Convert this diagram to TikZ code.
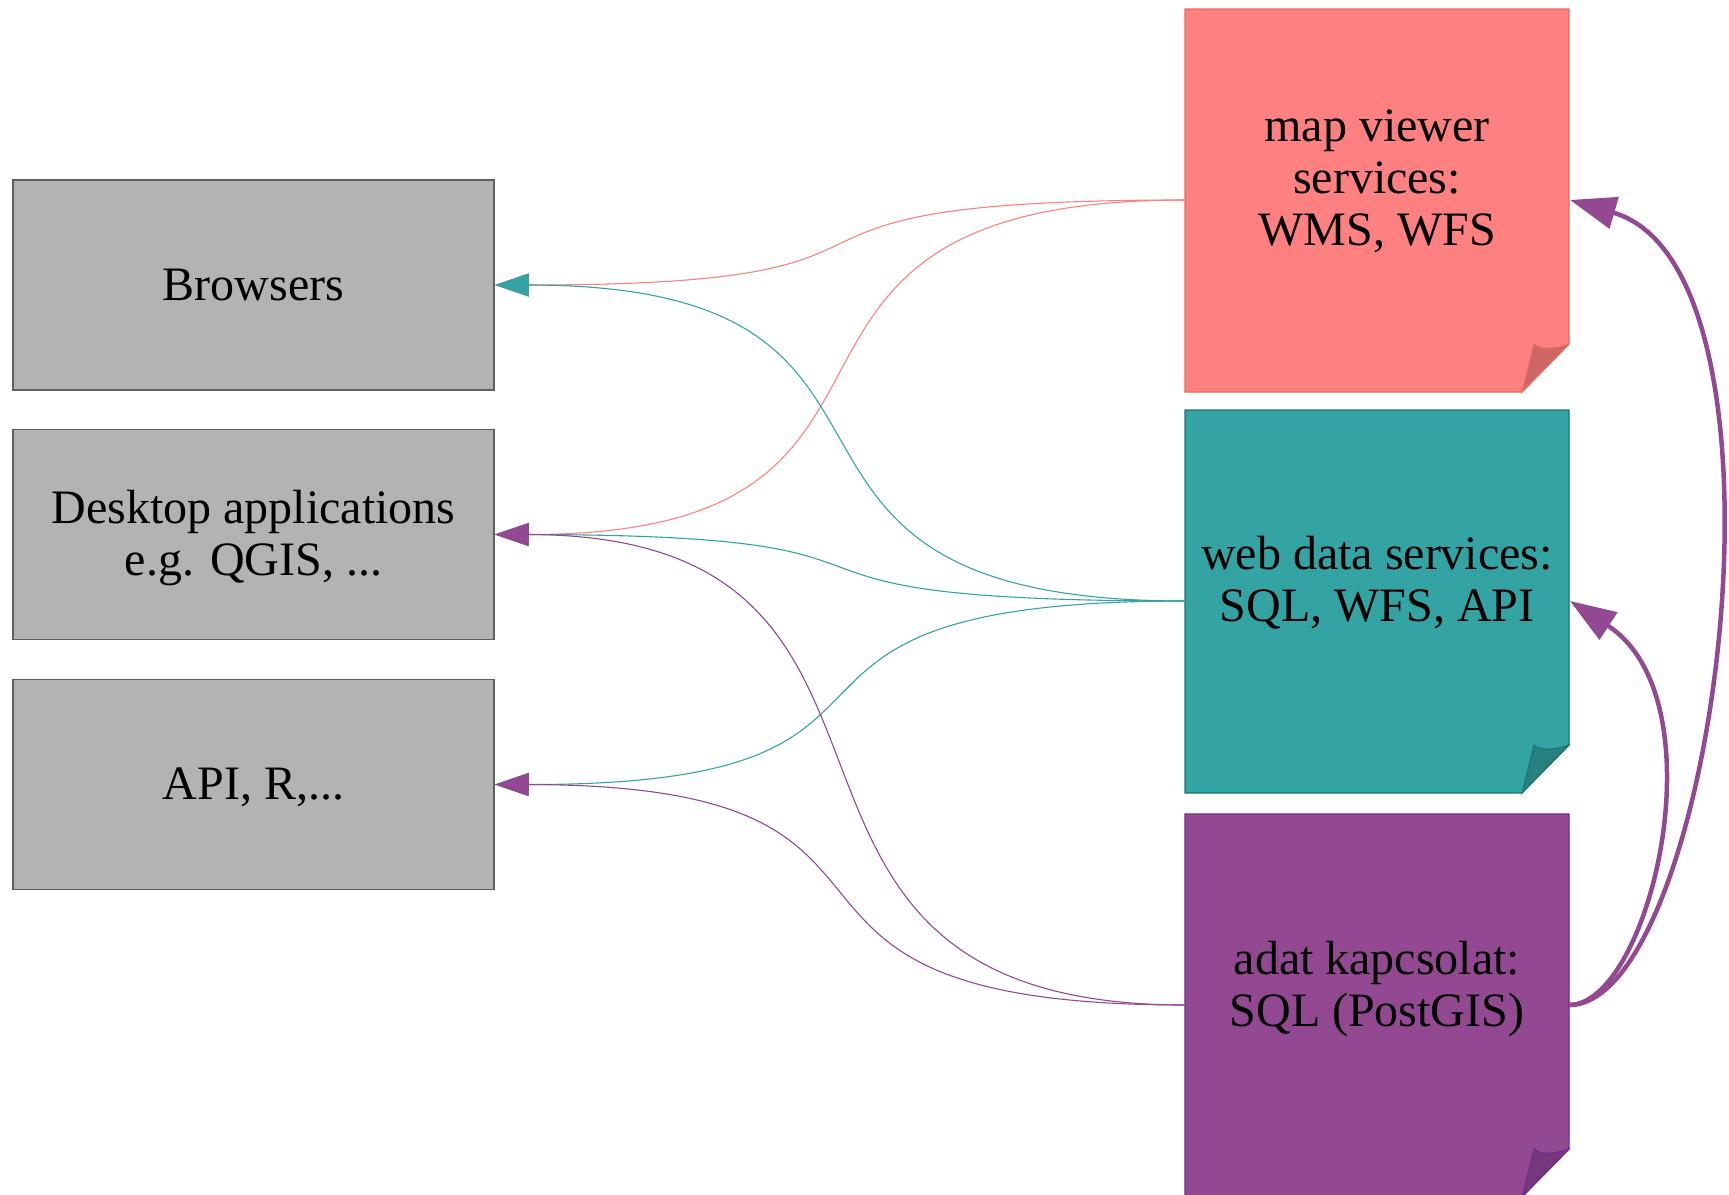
\documentclass[tikz,border=0pt]{standalone}
\usepackage{fontspec}
\setmainfont{Liberation Serif}
\usetikzlibrary{arrows.meta}
\definecolor{salmon}{RGB}{255,128,128}
\definecolor{salmonedge}{RGB}{232,108,88}
\definecolor{salmonfold}{RGB}{206,102,102}
\definecolor{tealc}{RGB}{51,163,163}
\definecolor{tealedge}{RGB}{24,118,118}
\definecolor{tealfold}{RGB}{38,128,128}
\definecolor{purp}{RGB}{147,72,146}
\definecolor{purpedge}{RGB}{112,40,150}
\definecolor{purpfold}{RGB}{118,56,122}
\definecolor{boxgray}{RGB}{179,179,179}
\definecolor{boxedge}{RGB}{95,95,95}
\begin{document}
\begin{tikzpicture}[x=1pt,y=-1pt,
  bigtext/.style={font=\fontsize{48}{52}\selectfont, align=center},
  graybox/.style={bigtext, draw=boxedge, line width=1.5pt, fill=boxgray,
    minimum width=481pt, minimum height=210pt, inner sep=0pt},
  thinline/.style={line width=1.1pt, -{Triangle[length=34pt,width=23pt]}},
  thickline/.style={line width=4.5pt, draw=purp, -{Triangle[length=46pt,width=32pt]}}]
\useasboundingbox (0,0) rectangle (1729,1194);
% gray boxes
\node[graybox] (browsers) at (253.5,285) {Browsers};
\node[graybox] (desktop) at (253.5,534.5) {\raisebox{-5pt}[\height][\depth]{\begin{tabular}{@{}c@{}}Desktop applications\\e.g. QGIS, ...\end{tabular}}};
\node[graybox] (api) at (253.5,784.5) {\raisebox{-3pt}[\height][\depth]{API, R,...}};
% notes
\filldraw[fill=salmon, draw=salmonedge, line width=1.2pt]
  (1185,9) -- (1569,9) -- (1569,344) -- (1522,392) -- (1185,392) -- cycle;
\filldraw[fill=salmonfold, draw=salmonedge, line width=1pt]
  (1534,344) .. controls (1540,350) and (1555,349) .. (1569,344) -- (1522,392) -- cycle;
\filldraw[fill=tealc, draw=tealedge, line width=1.2pt]
  (1185,410) -- (1569,410) -- (1569,745) -- (1522,793) -- (1185,793) -- cycle;
\filldraw[fill=tealfold, draw=tealedge, line width=1pt]
  (1534,745) .. controls (1540,751) and (1555,750) .. (1569,745) -- (1522,793) -- cycle;
\filldraw[fill=purp, draw=purpedge, line width=1.2pt]
  (1185,814) -- (1569,814) -- (1569,1149) -- (1522,1197) -- (1185,1197) -- cycle;
\filldraw[fill=purpfold, draw=purpedge, line width=1pt]
  (1534,1149) .. controls (1540,1155) and (1555,1154) .. (1569,1149) -- (1522,1197) -- cycle;
\node[bigtext] (maptext) at (1377,181) {map viewer\\services:\\WMS, WFS};
\node[bigtext] (webtext) at (1377,583) {web data services:\\SQL, WFS, API};
\node[bigtext] (purtext) at (1377,989) {adat kapcsolat:\\SQL (PostGIS)};
% connection points
\coordinate (mapL) at (1185,200);
\coordinate (mapR) at (1570,200);
\coordinate (webL) at (1185,601);
\coordinate (webR) at (1570,601);
\coordinate (purL) at (1185,1005);
\coordinate (purR) at (1569,1005);
% salmon connectors
\draw[thinline, draw=salmon] (mapL) .. controls (690,200) and (985,285) .. (browsers.east);
\draw[thinline, draw=salmon] (mapL) .. controls (690,200) and (985,535) .. (desktop.east);
% teal connectors
\draw[thinline, draw=tealc] (webL) .. controls (690,601) and (985,285) .. (browsers.east);
\draw[thinline, draw=tealc] (webL) .. controls (690,601) and (985,535) .. (desktop.east);
\draw[thinline, draw=tealc] (webL) .. controls (690,601) and (985,785) .. (api.east);
% purple connectors
\draw[thinline, draw=purp] (purL) .. controls (690,1005) and (985,535) .. (desktop.east);
\draw[thinline, draw=purp] (purL) .. controls (690,1005) and (985,785) .. (api.east);
% thick purple arrows
\draw[thickline] (purR) .. controls (1715,1005) and (1810,270) .. (mapR);
\draw[thickline] (purR) .. controls (1650,1005) and (1722,700) .. (webR);
\end{tikzpicture}
\end{document}
